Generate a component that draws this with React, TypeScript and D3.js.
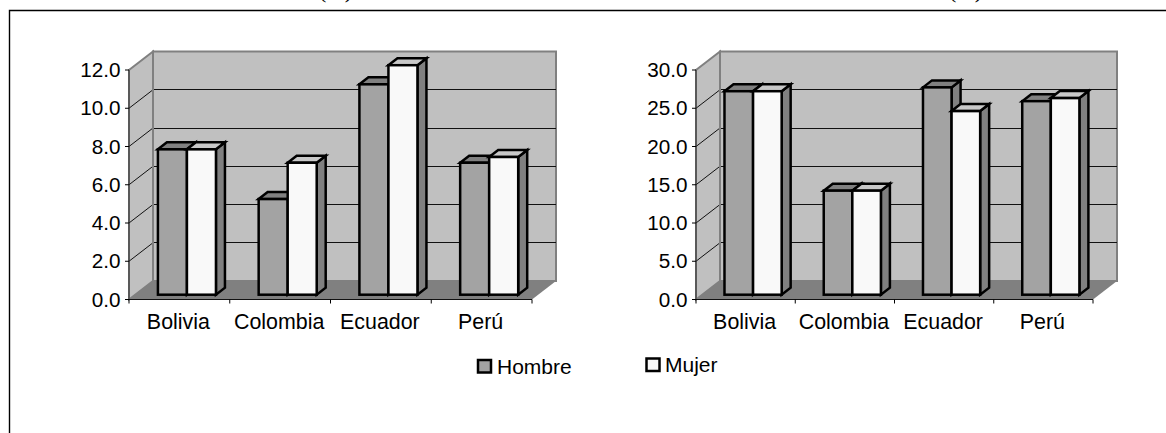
import React from "react";
import * as d3 from "d3";

const categories = ["Bolivia", "Colombia", "Ecuador", "Perú"];
const leftHombre = [7.6, 5.0, 11.0, 6.9];
const leftMujer = [7.6, 6.9, 12.0, 7.2];
const rightHombre = [26.6, 13.6, 27.1, 25.3];
const rightMujer = [26.6, 13.6, 24.0, 25.7];
const leftTicks = [0, 2, 4, 6, 8, 10, 12];
const rightTicks = [0, 5, 10, 15, 20, 25, 30];
const FONT = "'Liberation Sans', Arial, sans-serif";

function Panel({ x0, x1, max, ticks, hombre, mujer }: any) {
  const dx = 24, dy = 18.5;
  const y0 = 299.5, yTop = 70;
  const y = d3.scaleLinear().domain([0, max]).range([y0, yTop]);
  const x = d3.scaleBand().domain(categories).range([x0, x1]);
  const bw = x.bandwidth();
  const bar = bw * 0.288;
  const barOff = bw * 0.287;
  const bY = (v: number) => y(v) - 4.8;
  const Bar = ({ bx, v, fill, top, side }: any) => {
    const t = bY(v), b = bY(0), w = bar, ox = 9, oy = 7;
    return (
      <g stroke="#000" strokeWidth={2.5} strokeLinejoin="miter">
        <polygon points={`${bx + w},${t} ${bx + w + ox},${t - oy} ${bx + w + ox},${b - oy} ${bx + w},${b}`} fill={side} />
        <polygon points={`${bx},${t} ${bx + ox},${t - oy} ${bx + w + ox},${t - oy} ${bx + w},${t}`} fill={top} />
        <rect x={bx} y={t} width={w} height={b - t} fill={fill} />
      </g>
    );
  };
  return (
    <g>
      <polygon points={`${x0},${yTop} ${x0 + dx},${yTop - dy} ${x0 + dx},${y0 - dy} ${x0},${y0}`} fill="#c0c0c0" stroke="#808080" strokeWidth={2} />
      <rect x={x0 + dx} y={yTop - dy} width={x1 - x0} height={y0 - yTop} fill="#c0c0c0" stroke="#808080" strokeWidth={2} />
      {ticks.filter((t: number) => t > 0 && t < max).map((t: number) => (
        <g key={t} stroke="#111" strokeWidth={1}>
          <line x1={x0} y1={y(t)} x2={x0 + dx} y2={y(t) - dy} />
          <line x1={x0 + dx} y1={y(t) - dy} x2={x1 + dx} y2={y(t) - dy} shapeRendering="crispEdges" />
        </g>
      ))}
      <polygon points={`${x0},${y0} ${x0 + dx},${y0 - dy} ${x1 + dx},${y0 - dy} ${x1},${y0}`} fill="#808080" />
      <line x1={x0 + dx} y1={yTop - dy} x2={x0 + dx} y2={y0 - dy} stroke="#808080" strokeWidth={2} />
      {categories.map((c, i) => {
        const bx = x(c)! + barOff;
        return (
          <g key={c}>
            <Bar bx={bx} v={hombre[i]} fill="#a3a3a3" top="#808080" side="#808080" />
            <Bar bx={bx + bar} v={mujer[i]} fill="#f9f9f9" top="#c8c8c8" side="#808080" />
          </g>
        );
      })}
      <line x1={x0} y1={yTop} x2={x0} y2={y0} stroke="#333" strokeWidth={1} />
      <line x1={x0} y1={y0} x2={x1} y2={y0} stroke="#111" strokeWidth={1} />
      {ticks.map((t: number) => (
        <g key={t}>
          <line x1={x0 - 4} y1={y(t)} x2={x0} y2={y(t)} stroke="#000" />
          <text x={x0 - 8.5} y={y(t) + 7} textAnchor="end" fontFamily={FONT} fontSize={20.7} fill="#000">{t.toFixed(1)}</text>
        </g>
      ))}
      {[...categories.map((c) => x(c)!), x1].map((p, i) => (
        <line key={i} x1={p} y1={y0} x2={p} y2={y0 + 4} stroke="#000" />
      ))}
      {categories.map((c) => (
        <text key={c} x={x(c)! + bw / 2 - 1} y={328.5} textAnchor="middle" fontFamily={FONT} fontSize={21.4} fill="#000">{c}</text>
      ))}
    </g>
  );
}

export default function App() {
  return (
    <svg width={1166} height={433} style={{ position: "fixed", left: 0, top: 0, background: "#fff" }}>
      <polyline points="9.5,433 9.5,10.5 1166,10.5" fill="none" stroke="#000" strokeWidth={1.4} />
      <text x={319} y={-2} fontFamily="'Liberation Serif', serif" fontSize={22} fill="#000">(%)</text>
      <text x={949} y={-2} fontFamily="'Liberation Serif', serif" fontSize={22} fill="#000">(%)</text>
      <Panel x0={129} x1={532} max={12} ticks={leftTicks} hombre={leftHombre} mujer={leftMujer} />
      <Panel x0={696} x1={1093} max={30} ticks={rightTicks} hombre={rightHombre} mujer={rightMujer} />
      <rect x={478} y={360} width={13} height={12.5} fill="#a3a3a3" stroke="#000" strokeWidth={2.5} />
      <text x={497} y={373.5} fontFamily={FONT} fontSize={21}>Hombre</text>
      <rect x={646.5} y={358.5} width={13} height={12.5} fill="#f9f9f9" stroke="#000" strokeWidth={2.5} />
      <text x={665} y={372} fontFamily={FONT} fontSize={21}>Mujer</text>
    </svg>
  );
}
